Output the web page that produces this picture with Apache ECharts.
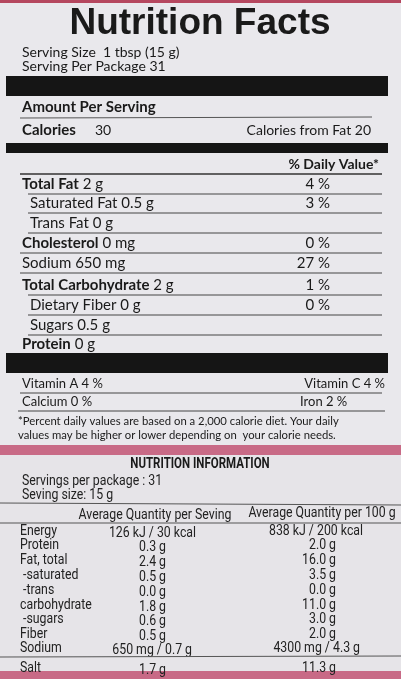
<!DOCTYPE html>
<html><head><meta charset="utf-8">
<script src="https://cdn.jsdelivr.net/npm/echarts@6/dist/echarts.min.js"></script>
<style>html,body{margin:0;padding:0;background:#e6e4e8}#c{width:401px;height:679px}</style>
</head><body><div id="c"></div>
<script>
var factRows = [
  ['Total Fat', ' 2 g', '4 %', true, false],
  ['Saturated Fat', ' 0.5 g', '3 %', false, true],
  ['Trans Fat', ' 0 g', '', false, true],
  ['Cholesterol', ' 0 mg', '0 %', true, false],
  ['Sodium', ' 650 mg', '27 %', false, false],
  ['Total Carbohydrate', ' 2 g', '1 %', true, false],
  ['Dietary Fiber', ' 0 g', '0 %', false, true],
  ['Sugars', ' 0.5 g', '', false, true],
  ['Protein', ' 0 g', '', true, false]
];
var factY = [184, 203, 223, 243, 263, 285, 305, 325, 344];
var infoLabels = ['Energy','Protein','Fat, total',' -saturated',' -trans','carbohydrate',' -sugars','Fiber','Sodium','Salt'];
var perServing = ['126 kJ / 30 kcal','0.3 g','2.4 g','0.5 g','0.0 g','1.8 g','0.6 g','0.5 g','650 mg / 0.7 g','1.7 g'];
var per100 = ['838 kJ / 200 kcal','2.0 g','16.0 g','3.5 g','0.0 g','11.0 g','3.0 g','2.0 g','4300 mg / 4.3 g','11.3 g'];
var infoY = [531, 545, 560, 575, 590, 605, 619, 634, 648, 668];

var F = 'Lato, "Open Sans", sans-serif';
var N = 'Roboto, sans-serif';
var g = [];
function rect(x,y,w,h,c){g.push({type:'rect',shape:{x:x,y:y,width:w,height:h},style:{fill:c},silent:true});}
function txt(x,y,s,size,opt){opt=opt||{};g.push({type:'text',x:x,y:y,scaleX:opt.sx||1,style:{text:s,fontSize:size,fontFamily:opt.ff||F,fontWeight:opt.w||'normal',fill:opt.c||'#1a1a1a',align:opt.a||'left',verticalAlign:'middle'},silent:true});}
function ntxt(x,y,s,opt){opt=opt||{};opt.ff=N;opt.sx=0.82;opt.c='#222';txt(x,y,s,opt.size||15,opt);}
function line(x1,y1,x2,y2,wd,c){g.push({type:'line',shape:{x1:x1,y1:y1,x2:x2,y2:y2},style:{stroke:c||'#333',lineWidth:wd},silent:true});}

rect(0,0,401,3,'#b5475f');
rect(0,3,401,442,'#e9e8ec');
rect(0,445,401,10,'#c86a86');
rect(0,455,401,216,'#e6e4e8');
rect(0,671,401,8,'#c86a86');

txt(200,24,'Nutrition Facts',37,{w:'bold',ff:'"Liberation Sans", Arial, sans-serif',a:'center'});
txt(22,52,'Serving Size  1 tbsp (15 g)',14);
txt(22,66,'Serving Per Package 31',14);
rect(6,76,382,20,'#151515');
txt(22,107,'Amount Per Serving',15,{w:'bold'});
line(20,118,372,117,1,'#555');
txt(22,130,'Calories',15,{w:'bold'});
txt(95,130,'30',14);
txt(371,130,'Calories from Fat 20',14,{a:'right'});
rect(6,143,382,10,'#151515');
txt(379,164,'% Daily Value*',14,{w:'bold',a:'right'});
line(20,174,382,174,1.5,'#333');
factRows.forEach(function(r,i){
  var x = r[4] ? 30 : 22;
  var y = factY[i];
  g.push({type:'text',x:x,y:y,style:{text:'{a|'+r[0]+'}{b|'+r[1]+'}',verticalAlign:'middle',rich:{a:{fontSize:15,fontFamily:F,fontWeight:r[3]?'bold':'normal',fill:'#1a1a1a'},b:{fontSize:15,fontFamily:F,fill:'#1a1a1a'}}},silent:true});
  if(r[2]) txt(330,y,r[2],15,{a:'right'});
  if(i<factRows.length-1) line(r[4]||factRows[i+1][4]?28:20,y+10,382,y+10,1,'#444');
});
rect(6,353,382,20,'#151515');
txt(22,384,'Vitamin A 4 %',13);
txt(385,384,'Vitamin C 4 %',13,{a:'right'});
line(20,393,382,393,1,'#444');
txt(22,402,'Calcium 0 %',13);
txt(300,402,'Iron 2 %',13);
line(18,411,385,411,1,'#444');
txt(18,421,'*Percent daily values are based on a 2,000 calorie diet. Your daily',11.3);
txt(18,435,'values may be higher or lower depending on  your calorie needs.',11.3);

txt(200,464,'NUTRITION INFORMATION',14,{w:'bold',ff:N,a:'center',sx:0.82});
ntxt(22,481,'Servings per package : 31');
ntxt(22,495,'Seving size: 15 g');
line(0,503,401,505,1,'#555');
ntxt(155,515,'Average Quantity per Seving',{a:'center'});
ntxt(322,513,'Average Quantity per 100 g',{a:'center'});
line(0,523,401,523,1,'#555');
infoLabels.forEach(function(l,i){
  var y=infoY[i];
  ntxt(20,y,l);
  ntxt(i===0?196:(i===8?192:166),y+2,perServing[i],{a:'right'});
  ntxt(i===0?363:(i===8?360:336),y,per100[i],{a:'right'});
});
line(0,657,401,656,1,'#555');

var chart = echarts.init(document.getElementById('c'));
chart.setOption({animation:false,graphic:{elements:g}});
</script></body></html>
